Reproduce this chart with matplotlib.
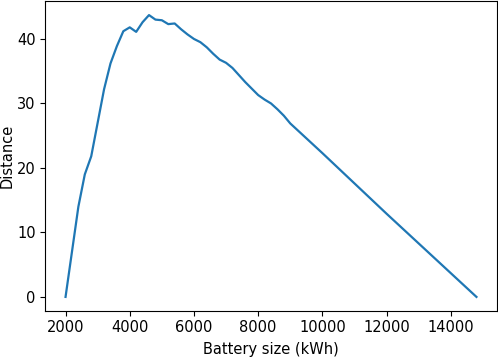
import matplotlib
matplotlib.use("Agg")
import matplotlib.pyplot as plt

battery_kwh = [2000, 2200, 2400, 2600, 2800, 3000, 3200, 3400, 3600, 3800,
               4000, 4200, 4400, 4600, 4800, 5000, 5200, 5400, 5600, 5800,
               6000, 6200, 6400, 6600, 6800, 7000, 7200, 7400, 7600, 7800,
               8000, 8200, 8400, 8600, 8800, 9000, 10000, 12000, 14800]
distance = [0.0, 7.0, 14.0, 19.0, 21.8, 27.0, 32.2, 36.2, 38.9, 41.2,
            41.8, 41.1, 42.6, 43.7, 43.0, 42.9, 42.3, 42.4, 41.5, 40.7,
            40.0, 39.5, 38.7, 37.7, 36.8, 36.3, 35.5, 34.4, 33.3, 32.3,
            31.3, 30.6, 30.0, 29.1, 28.1, 26.9, 22.3, 12.9, 0.0]

fs = 10.5
fig = plt.figure(figsize=(4.98, 3.58), dpi=100)
ax = fig.add_axes([45/498, (358-311)/358, (497-45)/498, (311-1)/358])
ax.plot(battery_kwh, distance, color="#1f77b4", linewidth=1.6)
ax.set_xlabel("Battery size (kWh)", fontsize=fs)
ax.set_ylabel("Distance", fontsize=fs)
ax.xaxis.set_label_coords(0.5, -0.1)
ax.yaxis.set_label_coords(-0.068, 0.5)
ax.tick_params(labelsize=fs, length=3.5, width=0.8, pad=3.2)
ax.set_xticks([2000, 4000, 6000, 8000, 10000, 12000, 14000])
ax.set_yticks([0, 10, 20, 30, 40])
fig.savefig("out.png", dpi=100)
